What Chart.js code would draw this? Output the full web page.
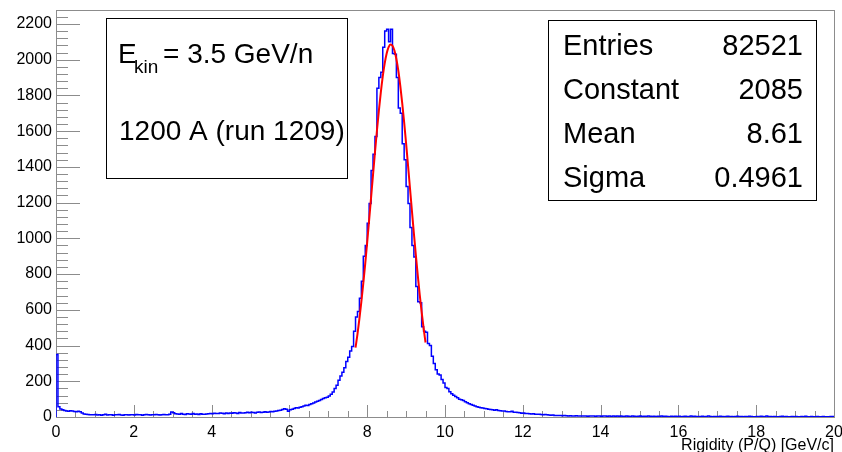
<!DOCTYPE html>
<html>
<head>
<meta charset="utf-8">
<title>Rigidity</title>
<script src="https://cdn.jsdelivr.net/npm/chart.js@4.4.0/dist/chart.umd.min.js"></script>
<style>
  html, body { margin: 0; padding: 0; background: #fff; }
</style>
</head>
<body>
<canvas id="rigidity-chart" width="842" height="452"></canvas>
<script>
/* Rigidity histogram with gaussian fit (ROOT style) */
(function () {
  const X_MIN = 0;
  const X_MAX = 20;
  const BIN_W = 0.05;
  const Y_MAX = 2278;

  // bin contents, one row per unit of rigidity (20 bins of 0.05)
  const counts = [
    80, 350, 58, 45, 40, 36, 34, 32, 35, 33, 31, 30, 32, 29, 22, 17, 16, 14, 13, 12,
    12, 14, 11, 13, 10, 12, 15, 11, 13, 12, 10, 13, 12, 14, 11, 10, 13, 12, 11, 13,
    12, 11, 14, 13, 12, 10, 13, 14, 12, 11, 13, 12, 14, 12, 11, 13, 14, 12, 13, 15,
    28, 24, 18, 17, 15, 19, 16, 14, 18, 17, 15, 19, 16, 17, 14, 18, 16, 15, 17, 18,
    19, 18, 21, 20, 19, 22, 21, 18, 23, 20, 22, 21, 24, 22, 20, 25, 23, 22, 24, 26,
    24, 27, 25, 23, 26, 28, 25, 27, 29, 26, 28, 31, 29, 32, 34, 36, 38, 42, 46, 44,
    32, 40, 44, 48, 52, 50, 55, 58, 62, 66, 64, 70, 74, 78, 84, 88, 92, 98, 104, 108,
    110, 118, 128, 140, 160, 178, 205, 230, 250, 275, 310, 335, 370, 395, 480, 560, 590, 665, 760, 900,
    960, 1085, 1195, 1380, 1470, 1570, 1840, 1900, 1930, 2070, 2160, 2170, 2100, 2170, 2035, 2030, 1900, 1730, 1700, 1530,
    1440, 1290, 1195, 1060, 960, 895, 730, 645, 640, 505, 480, 475, 412, 400, 340, 300, 265, 240, 235, 210,
    190, 165, 160, 142, 130, 122, 115, 108, 100, 96, 92, 85, 80, 74, 70, 66, 62, 58, 54, 52,
    50, 48, 46, 44, 42, 41, 38, 40, 36, 35, 33, 34, 31, 30, 29, 32, 27, 26, 25, 24,
    21, 22, 20, 19, 18, 17, 18, 16, 15, 16, 14, 13, 14, 12, 11, 10, 11, 9, 8, 9,
    8, 7, 8, 7, 6, 7, 6, 5, 7, 6, 5, 6, 5, 6, 4, 5, 6, 5, 4, 5,
    5, 4, 6, 5, 4, 5, 3, 5, 4, 6, 4, 5, 3, 4, 5, 4, 3, 5, 4, 3,
    4, 5, 3, 4, 3, 5, 4, 3, 4, 2, 4, 3, 5, 3, 4, 3, 2, 4, 3, 4,
    3, 4, 2, 3, 4, 3, 2, 5, 3, 4, 2, 3, 3, 4, 2, 3, 5, 3, 2, 3,
    3, 2, 4, 3, 2, 3, 4, 2, 3, 2, 3, 4, 2, 3, 2, 3, 2, 4, 3, 2,
    2, 3, 2, 4, 3, 2, 5, 2, 3, 2, 3, 2, 2, 3, 4, 2, 3, 2, 2, 3,
    2, 3, 2, 2, 3, 2, 4, 2, 2, 3, 2, 2, 3, 2, 2, 3, 2, 2, 2, 3,
  ];

  // red fit curve
  const fitX = [
    7.70, 7.75, 7.80, 7.85, 7.90, 7.95, 8.00, 8.05, 8.10, 8.15, 8.20, 8.25, 8.30,
    8.35, 8.40, 8.45, 8.50, 8.55, 8.60, 8.65, 8.70, 8.75, 8.80, 8.85, 8.90, 8.95,
    9.00, 9.05, 9.10, 9.15, 9.20, 9.25, 9.30, 9.35, 9.40, 9.45, 9.50,
  ];
  const fitY = [
    388, 464, 550, 645, 749, 860, 979, 1103, 1229, 1357, 1482, 1602, 1715,
    1817, 1906, 1979, 2034, 2070, 2085, 2078, 2051, 2004, 1938, 1855, 1757, 1649,
    1531, 1407, 1280, 1153, 1028, 907, 793, 685, 587, 497, 417,
  ];

  const xTicks = [0, 2, 4, 6, 8, 10, 12, 14, 16, 18, 20];
  const yTicks = [0, 200, 400, 600, 800, 1000, 1200, 1400, 1600, 1800, 2000, 2200];

  const statsLabels = ["Entries", "Constant", "Mean", "Sigma"];
  const statsValues = ["82521", "2085", "8.61", "0.4961"];

  const FONT = '"Liberation Sans", Arial, sans-serif';
  const AXIS_GRAY = "#8c8c8c";

  // histogram outline: left edge of each bin, plus the closing edge
  const histPoints = [{ x: X_MIN, y: 0 }];
  counts.forEach((c, i) => histPoints.push({ x: X_MIN + i * BIN_W, y: c }));
  histPoints.push({ x: X_MAX, y: counts[counts.length - 1] });

  const fitPoints = fitX.map((x, i) => ({ x, y: fitY[i] }));

  // ROOT style frame with ticks pointing inward
  const frameTicks = {
    id: "frameTicks",
    beforeDatasetsDraw(chart) {
      const { ctx, chartArea: a, scales } = chart;
      const xs = scales.x;
      const ys = scales.y;
      ctx.save();
      ctx.strokeStyle = AXIS_GRAY;
      ctx.lineWidth = 1;
      ctx.beginPath();
      for (let k = 0; k <= 40; k++) {
        const px = Math.round(xs.getPixelForValue(k * 0.5)) + 0.5;
        const len = k % 4 === 0 ? 12 : 6;
        ctx.moveTo(px, a.bottom);
        ctx.lineTo(px, a.bottom - len);
      }
      for (let k = 0; k <= 56; k++) {
        const v = k * 40;
        const py = Math.round(ys.getPixelForValue(v)) + 0.5;
        const len = k % 5 === 0 ? 24 : 12;
        ctx.moveTo(a.left, py);
        ctx.lineTo(a.left + len, py);
      }
      ctx.stroke();
      ctx.strokeRect(
        Math.round(a.left) + 0.5,
        Math.round(a.top) + 0.5,
        Math.round(a.right - a.left),
        Math.round(a.bottom - a.top)
      );
      ctx.restore();
    },
  };

  // text boxes: run info and fit statistics
  const textBoxes = {
    id: "textBoxes",
    afterDraw(chart) {
      const { ctx } = chart;
      ctx.save();
      ctx.fillStyle = "#fff";
      ctx.strokeStyle = "#000";
      ctx.lineWidth = 1;

      ctx.fillRect(106.5, 18.5, 241, 160);
      ctx.strokeRect(106.5, 18.5, 241, 160);
      ctx.fillStyle = "#000";
      ctx.textBaseline = "alphabetic";
      ctx.textAlign = "left";
      ctx.font = `28px ${FONT}`;
      ctx.fillText("E", 118, 63);
      ctx.font = `19px ${FONT}`;
      ctx.fillText("kin", 134, 73);
      ctx.font = `28px ${FONT}`;
      ctx.fillText("= 3.5 GeV/n", 163, 63);
      ctx.fillText("1200 A (run 1209)", 119, 140);

      ctx.fillStyle = "#fff";
      ctx.fillRect(548.5, 20.5, 268, 180);
      ctx.strokeRect(548.5, 20.5, 268, 180);
      ctx.fillStyle = "#000";
      ctx.font = `29px ${FONT}`;
      statsLabels.forEach((label, i) => {
        const y = 55 + i * 44;
        ctx.textAlign = "left";
        ctx.fillText(label, 563, y);
        ctx.textAlign = "right";
        ctx.fillText(statsValues[i], 803, y);
      });
      ctx.restore();
    },
  };

  const ctx = document.getElementById("rigidity-chart").getContext("2d");
  new Chart(ctx, {
    type: "line",
    data: {
      datasets: [
        {
          label: "fit",
          data: fitPoints,
          borderColor: "#ff0000",
          borderWidth: 2,
          pointRadius: 0,
          fill: false,
          cubicInterpolationMode: "monotone",
        },
        {
          label: "Rigidity",
          data: histPoints,
          borderColor: "#0000ff",
          borderWidth: 1.5,
          pointRadius: 0,
          fill: false,
          stepped: "after",
        },
      ],
    },
    options: {
      responsive: false,
      animation: false,
      events: [],
      layout: { padding: { left: 0, right: 8, top: 10, bottom: 0 } },
      plugins: {
        legend: { display: false },
        tooltip: { enabled: false },
      },
      scales: {
        x: {
          type: "linear",
          min: X_MIN,
          max: X_MAX,
          afterBuildTicks: (scale) => {
            scale.ticks = xTicks.map((v) => ({ value: v }));
          },
          afterFit: (scale) => {
            scale.height = 35;
            scale.paddingLeft = 0;
            scale.paddingRight = 0;
          },
          grid: { display: false, drawTicks: false },
          border: { display: false },
          ticks: {
            padding: 6,
            maxRotation: 0,
            autoSkip: false,
            color: "#000",
            font: { family: FONT, size: 16 },
            callback: (value) => String(value),
          },
          title: {
            display: true,
            text: "Rigidity (P/Q) [GeV/c]",
            align: "end",
            color: "#000",
            padding: { top: 0, bottom: -3 },
            font: { family: FONT, size: 16 },
          },
        },
        y: {
          min: 0,
          max: Y_MAX,
          afterBuildTicks: (scale) => {
            scale.ticks = yTicks.map((v) => ({ value: v }));
          },
          afterFit: (scale) => {
            scale.width = 56;
            scale.paddingTop = 0;
            scale.paddingBottom = 0;
          },
          grid: { display: false, drawTicks: false },
          border: { display: false },
          ticks: {
            padding: 4,
            color: "#000",
            font: { family: FONT, size: 16 },
            callback: (value) => String(value),
          },
        },
      },
    },
    plugins: [frameTicks, textBoxes],
  });
})();
</script>
</body>
</html>
